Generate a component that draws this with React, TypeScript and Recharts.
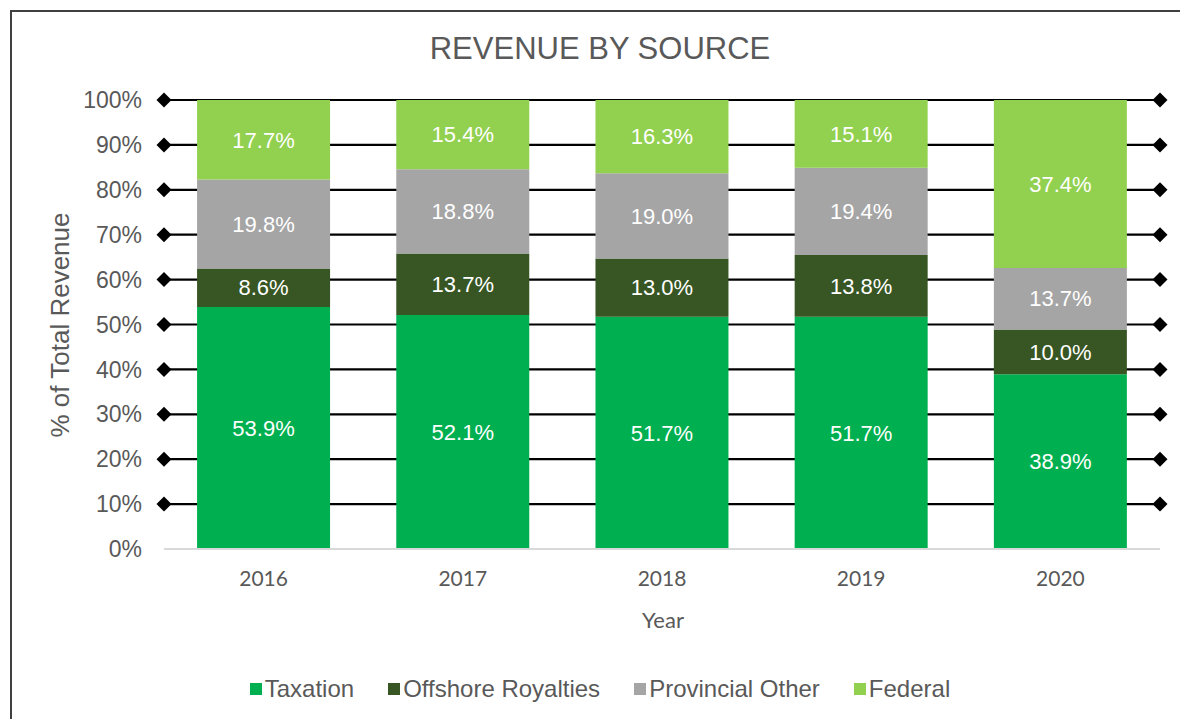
import { BarChart, Bar, XAxis, YAxis, CartesianGrid, Legend, LabelList } from 'recharts';

const years = ['2016', '2017', '2018', '2019', '2020'];
const taxation = [53.9, 52.1, 51.7, 51.7, 38.9];
const offshoreRoyalties = [8.6, 13.7, 13.0, 13.8, 10.0];
const provincialOther = [19.8, 18.8, 19.0, 19.4, 13.7];
const federal = [17.7, 15.4, 16.3, 15.1, 37.4];
const percentTicks = [0, 10, 20, 30, 40, 50, 60, 70, 80, 90, 100];

const series = [
  { key: 'taxation', name: 'Taxation', color: '#00B050' },
  { key: 'offshoreRoyalties', name: 'Offshore Royalties', color: '#375623' },
  { key: 'provincialOther', name: 'Provincial Other', color: '#A5A5A5' },
  { key: 'federal', name: 'Federal', color: '#92D050' },
];

const data = years.map((year, i) => ({
  year,
  taxation: taxation[i],
  offshoreRoyalties: offshoreRoyalties[i],
  provincialOther: provincialOther[i],
  federal: federal[i],
}));

const CHART_W = 1180;
const CHART_H = 710;
const MARGIN = { top: 88, right: 32, left: 62, bottom: 63 };
const PLOT_BOTTOM = 537;
const TEXT_GRAY = '#595959';
const ARIAL = '"Liberation Sans", Arial, sans-serif';

// black gridline with a diamond marker at each end (skip the 0% line)
// eslint-disable-next-line @typescript-eslint/no-explicit-any
function DiamondGridLine(props: any) {
  const { x1, x2, y1, index } = props;
  if (Math.abs(y1 - PLOT_BOTTOM) < 1) return <g key={`grid-${index}`} />;
  const d = 7.5;
  const diamond = (cx: number) => `M${cx},${y1 - d} L${cx + d},${y1} L${cx},${y1 + d} L${cx - d},${y1} Z`;
  return (
    <g key={`grid-${index}`}>
      <line x1={x1} x2={x2} y1={y1} y2={y1} stroke="#000" strokeWidth={2.2} />
      <path d={diamond(x1)} fill="#000" />
      <path d={diamond(x2)} fill="#000" />
    </g>
  );
}

function LegendContent() {
  return (
    <div
      style={{
        display: 'flex',
        justifyContent: 'center',
        alignItems: 'center',
        height: 30,
        fontFamily: ARIAL,
        fontSize: 24,
        color: TEXT_GRAY,
      }}
    >
      {series.map((s) => (
        <div key={s.key} style={{ display: 'flex', alignItems: 'center', margin: '0 17px' }}>
          <span style={{ width: 12, height: 12, background: s.color, marginRight: 3, display: 'inline-block' }} />
          <span>{s.name}</span>
        </div>
      ))}
    </div>
  );
}

export default function App() {
  return (
    <div
      style={{
        position: 'absolute',
        left: 10,
        top: 10,
        width: 1200,
        height: 730,
        border: '2px solid #404040',
        boxSizing: 'border-box',
        background: '#fff',
      }}
    >
      <div
        style={{
          position: 'absolute',
          left: 0,
          top: 22,
          width: 1176,
          textAlign: 'center',
          fontFamily: ARIAL,
          fontSize: 31,
          lineHeight: '30px',
          color: TEXT_GRAY,
        }}
      >
        REVENUE BY SOURCE
      </div>
      <BarChart width={CHART_W} height={CHART_H} data={data} margin={MARGIN} barCategoryGap="16.6%">
        <CartesianGrid vertical={false} horizontal={DiamondGridLine} />
        <XAxis
          dataKey="year"
          height={80}
          tickLine={false}
          axisLine={{ stroke: '#D9D9D9', strokeWidth: 2 }}
          tick={{ fontFamily: 'Lato', fontSize: 21, fill: TEXT_GRAY }}
          tickMargin={16}
          label={{
            content: () => (
              <text x={651} y={607} textAnchor="middle" dominantBaseline="central" fontFamily="Lato" fontSize={22} fill={TEXT_GRAY}>
                Year
              </text>
            ),
          }}
        />
        <YAxis
          width={90}
          domain={[0, 100]}
          ticks={percentTicks}
          interval={0}
          tickFormatter={(v: number) => `${v}%`}
          axisLine={false}
          tickLine={false}
          tickMargin={16}
          tick={{ fontFamily: ARIAL, fontSize: 23, fill: TEXT_GRAY }}
          label={{
            content: () => (
              <text
                x={48}
                y={313}
                transform="rotate(-90, 48, 313)"
                textAnchor="middle"
                dominantBaseline="central"
                fontFamily={ARIAL}
                fontSize={26}
                fill={TEXT_GRAY}
              >
                % of Total Revenue
              </text>
            ),
          }}
        />
        <Legend verticalAlign="bottom" content={LegendContent} wrapperStyle={{ top: 662, left: 0, width: 1176 }} />
        {series.map((s) => (
          <Bar key={s.key} dataKey={s.key} name={s.name} stackId="rev" fill={s.color} isAnimationActive={false}>
            <LabelList
              dataKey={s.key}
              position="center"
              formatter={(v: number) => `${v.toFixed(1)}%`}
              fill="#fff"
              style={{ fontFamily: ARIAL, fontSize: 22 }}
            />
          </Bar>
        ))}
      </BarChart>
    </div>
  );
}
